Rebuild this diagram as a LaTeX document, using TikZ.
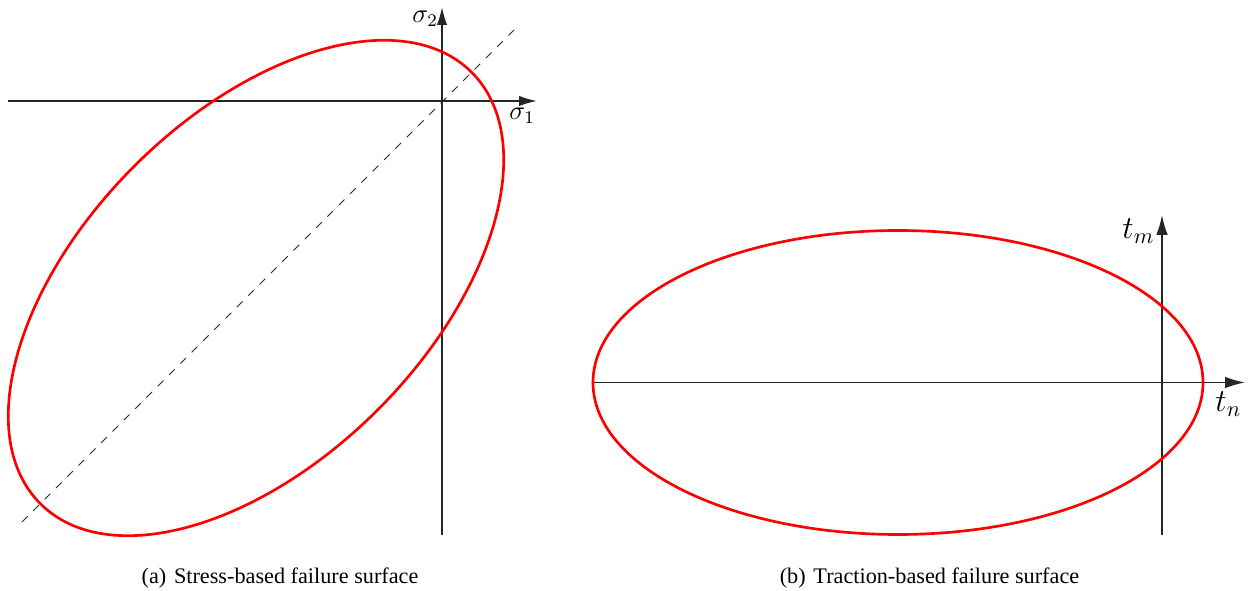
\documentclass[tikz,border=0pt]{standalone}
\usepackage{fontspec}
\setmainfont{Liberation Serif}
\usetikzlibrary{arrows.meta}
\tikzset{
  axis/.style={draw=black!85, line width=0.7pt, -{Latex[length=8pt,width=4.6pt]}},
  axisb/.style={draw=black!85, line width=0.7pt, -{Latex[length=9pt,width=5.2pt]}},
  surf/.style={draw=red, line width=1.2pt},
  diag/.style={draw=black!85, line width=0.45pt, dash pattern=on 3.6pt off 3.6pt},
  lbl/.style={inner sep=0pt, anchor=base west},
  captext/.style={inner sep=0pt, anchor=base, font=\fontsize{10}{12}\selectfont}
}
\begin{document}
\begin{tikzpicture}[x=0.45pt,y=-0.45pt]
\useasboundingbox (0,0) rectangle (1249,591);
% left panel
\coordinate (hL) at (8,101);
\coordinate (hR) at (537,101);
\coordinate (vB) at (442,535);
\coordinate (vT) at (442,7);
\coordinate (dA) at (22,522);
\coordinate (dB) at (514,30);
\coordinate (cL) at (256,288);
\draw[diag] (dA) -- (dB);
\draw[axis] (hL) -- (hR);
\draw[axis] (vB) -- (vT);
\draw[surf, rotate around={45:(cL)}] (cL) ellipse [x radius=137.25pt, y radius=77.5pt];
\node[lbl, font=\fontsize{12}{14}\selectfont] (s2) at (412,23) {$\sigma_2$};
\node[lbl, font=\fontsize{12}{14}\selectfont] (s1) at (509,120) {$\sigma_1$};
% right panel
\coordinate (hL2) at (593,382.5);
\coordinate (hR2) at (1245,382.5);
\coordinate (vB2) at (1162,535);
\coordinate (vT2) at (1162,215);
\coordinate (cR) at (898,382.5);
\draw[axisb] (hL2) -- (hR2);
\draw[axisb] (vB2) -- (vT2);
\draw[surf] (cR) ellipse [x radius=137.25pt, y radius=68.4pt];
\node[lbl, font=\fontsize{14.4}{17}\selectfont] (tm) at (1122,239) {$t_m$};
\node[lbl, font=\fontsize{14.4}{17}\selectfont] (tn) at (1215,412) {$t_n$};
% captions
\node[captext] (capa) at (280,584) {(a)\hspace{0.35em}Stress-based failure surface};
\node[captext] (capb) at (929.5,584) {(b)\hspace{0.35em}Traction-based failure surface};
\end{tikzpicture}
\end{document}
